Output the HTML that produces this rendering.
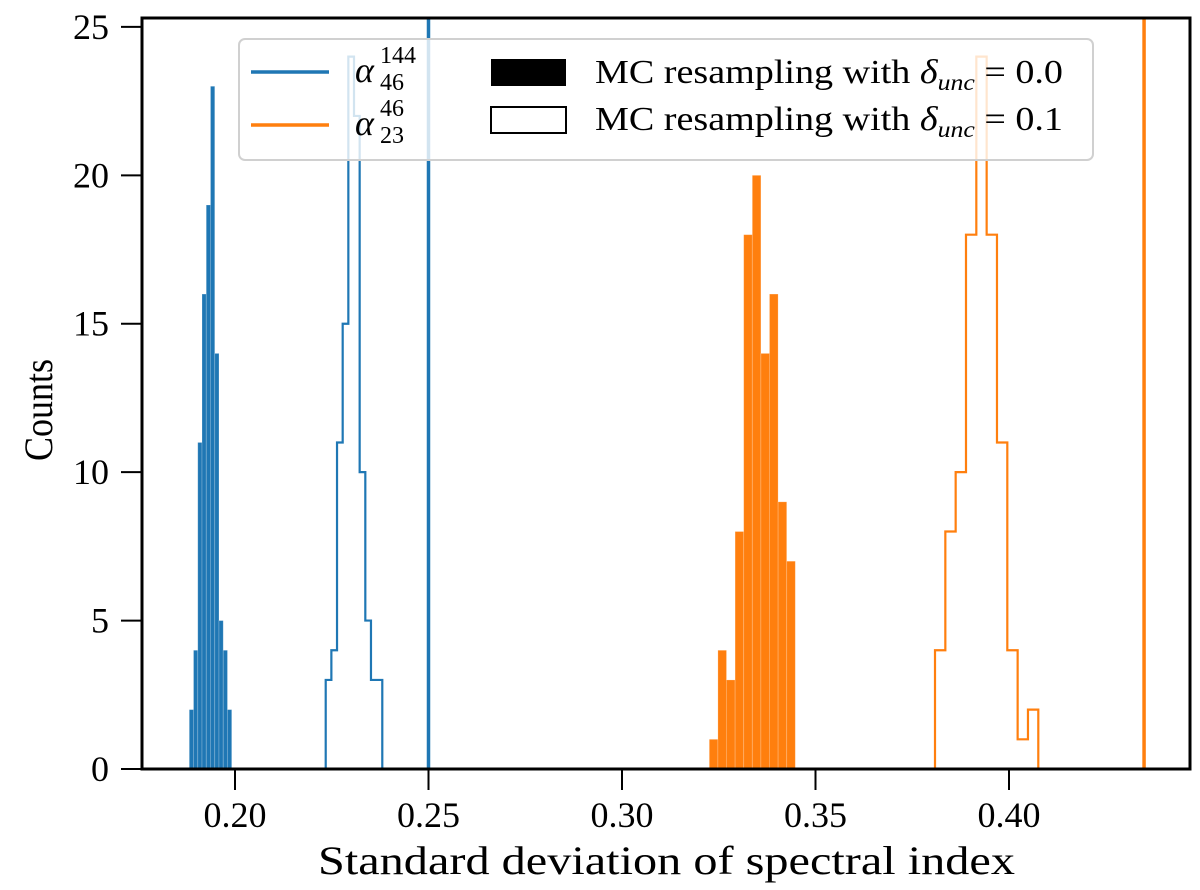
<!DOCTYPE html>
<html><head><meta charset="utf-8"><style>
html,body{margin:0;padding:0;background:#fff;}
svg{display:block;font-family:"Liberation Serif",serif;}
</style></head><body>
<svg id="chart" width="1200" height="890" xmlns="http://www.w3.org/2000/svg">
<g id="marks"></g>
<g id="axes"></g>
<g id="legend">
 <rect x="239" y="39" width="854" height="121" rx="6" fill="#fff" fill-opacity="0.8" stroke="#d0d0d0" stroke-width="2"/>
 <line x1="251" y1="72" x2="329" y2="72" stroke="#1f77b4" stroke-width="3.5"/>
 <text x="355" y="82" font-size="36" font-style="italic">α</text>
 <text x="380" y="63" font-size="24">144</text>
 <text x="380" y="90" font-size="24">46</text>
 <line x1="251" y1="125" x2="329" y2="125" stroke="#ff7f0e" stroke-width="3.5"/>
 <text x="355" y="135" font-size="36" font-style="italic">α</text>
 <text x="380" y="116" font-size="24">46</text>
 <text x="380" y="143" font-size="24">23</text>
 <rect x="491" y="59" width="75" height="27" fill="#000"/>
 <rect x="491" y="107" width="75" height="26" fill="#fff" stroke="#000" stroke-width="2"/>
 <text x="595" y="83" font-size="34" textLength="468" lengthAdjust="spacingAndGlyphs">MC resampling with <tspan font-style="italic">δ</tspan><tspan font-style="italic" font-size="23" dy="7">unc</tspan><tspan dy="-7"> = 0.0</tspan></text>
 <text x="595" y="130" font-size="34" textLength="468" lengthAdjust="spacingAndGlyphs">MC resampling with <tspan font-style="italic">δ</tspan><tspan font-style="italic" font-size="23" dy="7">unc</tspan><tspan dy="-7"> = 0.1</tspan></text>
</g>
</svg>
<script>
// data
const blueFilledStart = 0.18819, blueFilledWidth = 0.001096;
const blueFilledCounts = [2,4,11,16,19,23,14,5,4,2];
const blueStepStart = 0.22344, blueStepWidth = 0.001462;
const blueStepCounts = [3,4,11,15,24,22,10,5,3,3];
const orangeFilledStart = 0.32256, orangeFilledWidth = 0.002222;
const orangeFilledCounts = [1,4,3,8,18,20,14,16,9,7];
const orangeStepStart = 0.38088, orangeStepWidth = 0.002669;
const orangeStepCounts = [4,8,10,18,24,18,11,4,1,2];
const vlineValues = [0.25, 0.4349];
const xTicks = [0.20,0.25,0.30,0.35,0.40];
const xTickLabels = ["0.20","0.25","0.30","0.35","0.40"];
const yTicks = [0,5,10,15,20,25];
const yTickLabels = ["0","5","10","15","20","25"];

const L=142,R=1190,T=18,B=769;
const xmin=0.17597,xmax=0.44677,ymax=25.3;
const X=v=>L+(v-xmin)/(xmax-xmin)*(R-L);
const Y=v=>B-v/ymax*(B-T);
const NS="http://www.w3.org/2000/svg";
const marks=document.getElementById('marks'), axes=document.getElementById('axes');
function mk(tag,attrs,parent){const e=document.createElementNS(NS,tag);for(const k in attrs)e.setAttribute(k,attrs[k]);parent.appendChild(e);return e;}

function filled(start,w,counts,color,name){
  counts.forEach((c,i)=>{
    const x0=X(start+i*w),x1=X(start+(i+1)*w);
    const r=mk('rect',{x:x0,y:Y(c),width:x1-x0,height:B-Y(c),fill:color,stroke:'#ffffff',"stroke-opacity":0.25,"stroke-width":0.8},marks);
    
    
  });
}
function step(start,w,counts,color,name){
  let d='M'+X(start)+','+B;
  counts.forEach((c,i)=>{d+=' L'+X(start+i*w)+','+Y(c)+' L'+X(start+(i+1)*w)+','+Y(c);});
  d+=' L'+X(start+counts.length*w)+','+B;
  const p=mk('path',{d:d,fill:'none',stroke:color,"stroke-width":2.2},marks);
  
  
}
filled(blueFilledStart,blueFilledWidth,blueFilledCounts,'#1f77b4','blue-filled');
step(blueStepStart,blueStepWidth,blueStepCounts,'#1f77b4','blue-step-hist');
filled(orangeFilledStart,orangeFilledWidth,orangeFilledCounts,'#ff7f0e','orange-filled');
step(orangeStepStart,orangeStepWidth,orangeStepCounts,'#ff7f0e','orange-step-hist');
const vcol=['#1f77b4','#ff7f0e'];
vlineValues.forEach((v,i)=>{
  const l=mk('line',{x1:X(v),x2:X(v),y1:T,y2:B,stroke:vcol[i],"stroke-width":3.5},marks);
  
  
});
const f=mk('rect',{x:L,y:T,width:R-L,height:B-T,fill:'none',stroke:'#000',"stroke-width":3},axes);


xTicks.forEach((v,i)=>{
  const t=mk('line',{x1:X(v),x2:X(v),y1:B,y2:B+21,stroke:'#000',"stroke-width":2},axes);
  
  
  const tx=mk('text',{x:X(v),y:B+58,"font-size":36,"text-anchor":"middle"},axes);
  tx.textContent=xTickLabels[i];
  
  
});
yTicks.forEach((v,i)=>{
  const t=mk('line',{x1:L-21,x2:L,y1:Y(v),y2:Y(v),stroke:'#000',"stroke-width":2},axes);
  
  
  const tx=mk('text',{x:L-33,y:Y(v)+12,"font-size":36,"text-anchor":"end"},axes);
  tx.textContent=yTickLabels[i];
  
  
});
const xl=mk('text',{x:318,y:874,"font-size":40,textLength:697,lengthAdjust:"spacingAndGlyphs"},axes);
xl.textContent='Standard deviation of spectral index';


const yl=mk('text',{x:0,y:0,"font-size":40,"text-anchor":"middle",textLength:102,lengthAdjust:"spacingAndGlyphs",transform:'translate(52,410) rotate(-90)'},axes);
yl.textContent='Counts';


</script>
</body></html>
